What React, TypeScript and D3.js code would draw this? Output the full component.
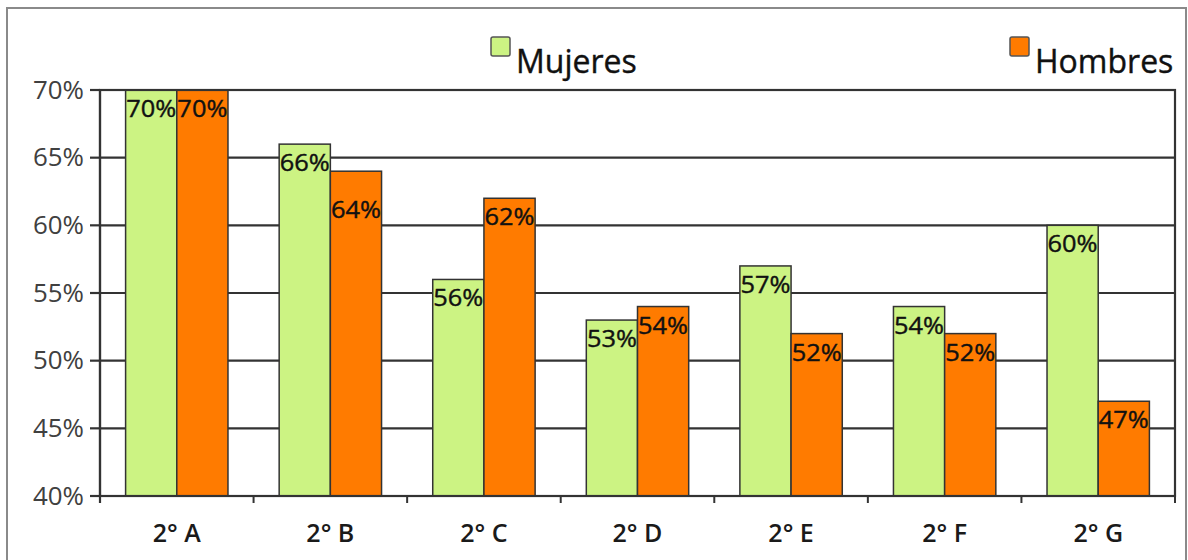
import React from "react";
import * as d3 from "d3";

const categories = ["2° A", "2° B", "2° C", "2° D", "2° E", "2° F", "2° G"];
const seriesNames = ["Mujeres", "Hombres"];
const mujeres = [0.70, 0.66, 0.56, 0.53, 0.57, 0.54, 0.60];
const hombres = [0.70, 0.64, 0.62, 0.54, 0.52, 0.52, 0.47];
const yTicks = [0.40, 0.45, 0.50, 0.55, 0.60, 0.65, 0.70];

const colors: Record<string, string> = { Mujeres: "#CCF383", Hombres: "#FF7B00" };
// extra downward shift of a data label (manually moved label in the original)
const labelNudge: Record<string, number> = { "2° B|Hombres": 20 };

const W = 1188, H = 560;
const plot = { left: 100, right: 1175, top: 90, bottom: 496 };
const FONT = "'Open Sans', 'DejaVu Sans', sans-serif";

export default function App() {
  const x = d3.scaleBand<string>().domain(categories).range([plot.left, plot.right])
    .paddingInner(1 / 3).paddingOuter(1 / 6);
  const xs = d3.scaleBand<string>().domain(seriesNames).range([0, x.bandwidth()]).padding(0);
  const y = d3.scaleLinear().domain([0.40, 0.70]).range([plot.bottom, plot.top]);
  const fmt = d3.format(".0%");
  const data: Record<string, number[]> = { Mujeres: mujeres, Hombres: hombres };
  const step = x.step();

  return (
    <svg width={W} height={H} style={{ position: "absolute", left: 0, top: 0, background: "#fff" }}>
      {/* outer frame */}
      <rect x={7} y={8} width={1179} height={560} fill="#fff" stroke="#8a8a8a" strokeWidth={2} />

      {/* gridlines */}
      {yTicks.map((t) => (
        <line key={"g" + t} x1={plot.left} x2={plot.right} y1={y(t)} y2={y(t)} stroke="#333" strokeWidth={2.2} />
      ))}

      {/* y ticks and labels */}
      {yTicks.map((t) => (
        <g key={"yt" + t}>
          <line x1={plot.left - 10} x2={plot.left} y1={y(t)} y2={y(t)} stroke="#333" strokeWidth={2.2} />
          <text x={84} y={y(t)} dy="0.35em" textAnchor="end" fontFamily={FONT} fontSize={25} fill="#404040"
            textLength={51} lengthAdjust="spacingAndGlyphs">
            {fmt(t)}
          </text>
        </g>
      ))}

      {/* bars */}
      {categories.map((c, i) => (
        <g key={c}>
          {seriesNames.map((s) => {
            const v = data[s][i];
            const bx = (x(c) as number) + (xs(s) as number);
            const by = y(v);
            return (
              <rect key={s} x={bx} y={by} width={xs.bandwidth()} height={plot.bottom - by}
                fill={colors[s]} stroke="#333" strokeWidth={1.5} />
            );
          })}
        </g>
      ))}

      {/* data labels */}
      {categories.map((c, i) =>
        seriesNames.map((s) => {
          const v = data[s][i];
          const bx = (x(c) as number) + (xs(s) as number) + xs.bandwidth() / 2;
          const by = y(v) + 27 + (labelNudge[c + "|" + s] || 0);
          return (
            <text key={c + s} x={bx} y={by} textAnchor="middle" fontFamily={FONT} fontSize={24}
              fill="#111" stroke="#111" strokeWidth={0.4} textLength={50} lengthAdjust="spacingAndGlyphs">
              {fmt(v)}
            </text>
          );
        })
      )}

      {/* plot border and axes */}
      <rect x={plot.left} y={plot.top} width={plot.right - plot.left} height={plot.bottom - plot.top}
        fill="none" stroke="#333" strokeWidth={2.2} />
      <line x1={plot.left} x2={plot.left} y1={plot.top} y2={plot.bottom + 7} stroke="#333" strokeWidth={2.2} />
      {d3.range(categories.length + 1).map((k) => {
        const tx = plot.left + k * step;
        return <line key={"xt" + k} x1={tx} x2={tx} y1={plot.bottom} y2={plot.bottom + 7} stroke="#333" strokeWidth={2} />;
      })}

      {/* x labels */}
      {categories.map((c) => (
        <text key={"xl" + c} x={(x(c) as number) + x.bandwidth() / 2} y={542} textAnchor="middle"
          fontFamily={FONT} fontSize={25} fontWeight={600} fill="#1a1a1a">
          {c}
        </text>
      ))}

      {/* legend */}
      {[{ s: "Mujeres", x: 491 }, { s: "Hombres", x: 1010 }].map((l) => (
        <g key={"lg" + l.s}>
          <rect x={l.x} y={37} width={19} height={19} rx={2} fill={colors[l.s]} stroke="#555" strokeWidth={1.5} />
          <text x={l.x + 25} y={73} fontFamily={FONT} fontSize={32} fill="#111" stroke="#111" strokeWidth={0.4}>
            {l.s}
          </text>
        </g>
      ))}
    </svg>
  );
}
